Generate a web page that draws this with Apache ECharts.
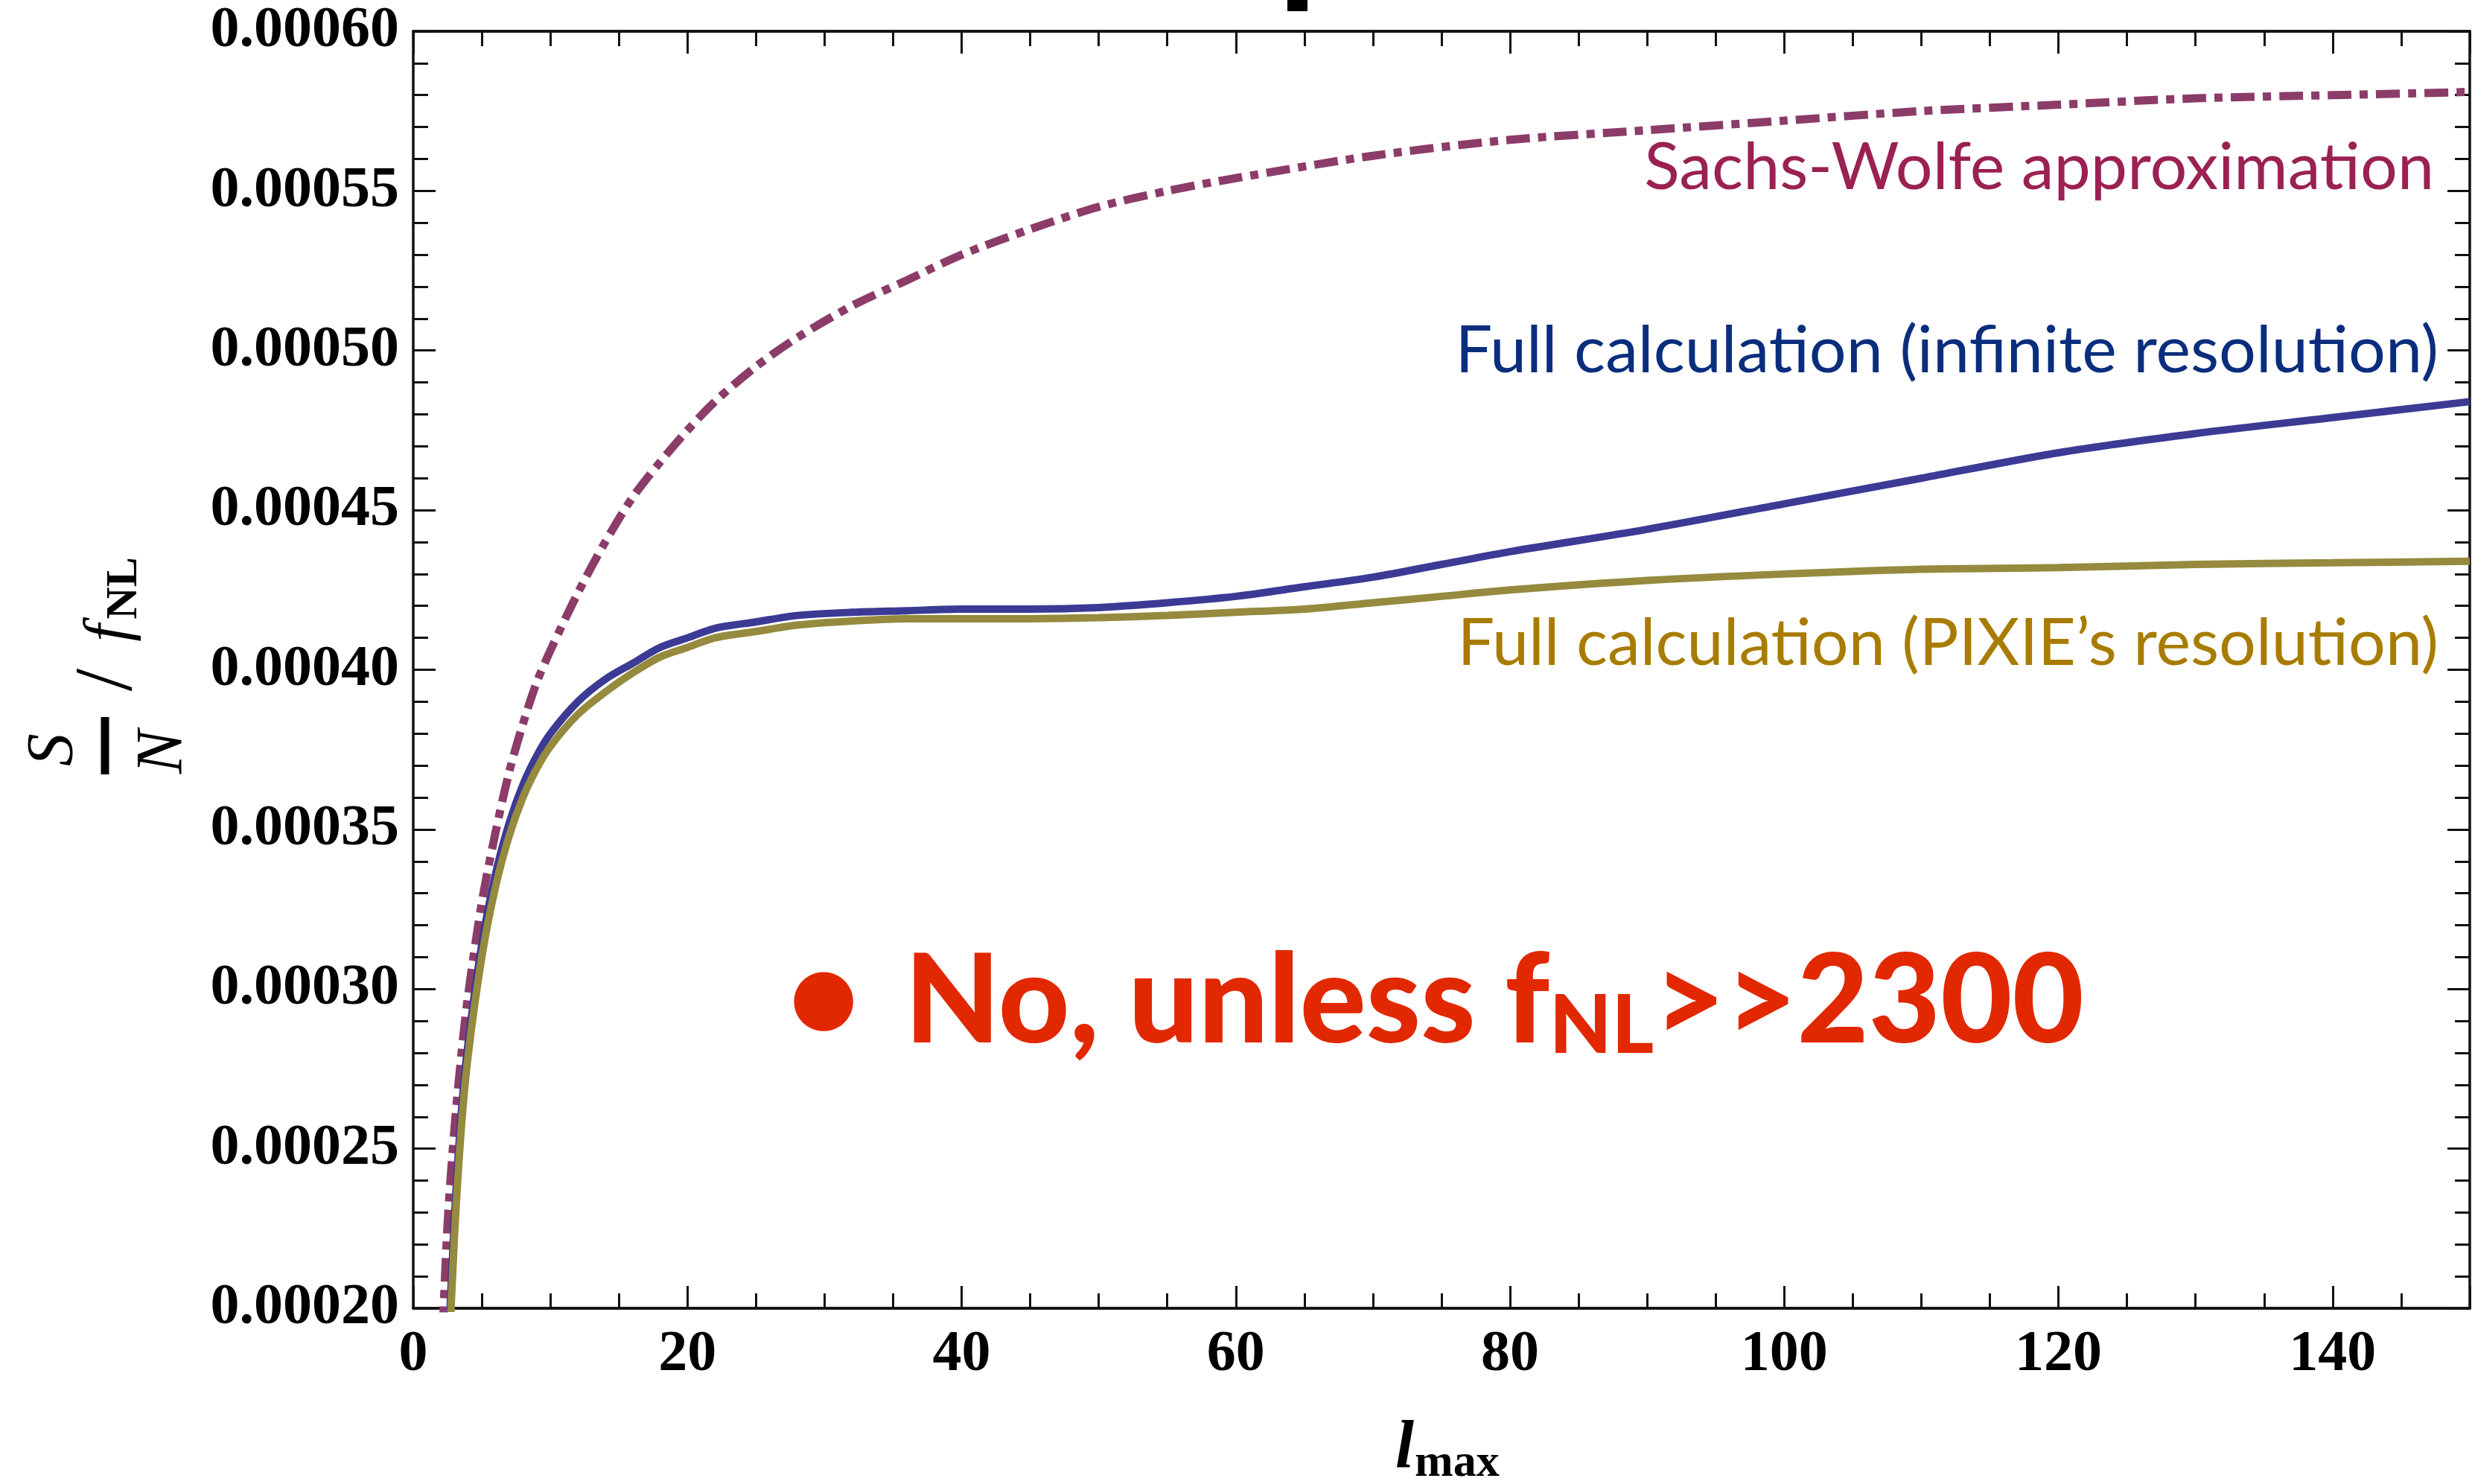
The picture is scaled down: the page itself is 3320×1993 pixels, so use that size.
<!DOCTYPE html>
<html>
<head>
<meta charset="utf-8">
<style>
  html, body { margin: 0; padding: 0; background: #fff; }
  #chart { width: 3320px; height: 1993px; }
</style>
<script src="https://cdn.jsdelivr.net/npm/echarts@6/dist/echarts.min.js"></script>
</head>
<body>
<div id="chart"></div>
<script>
// l_max grid for the Sachs-Wolfe curve and its S/N per unit f_NL
const lSW = [2, 2.5, 3, 3.5, 4, 5, 6, 7, 8, 9, 10, 12, 14, 16, 18, 20, 22, 25, 28, 32, 36, 40, 45, 50, 55, 60, 70, 80, 90, 100, 110, 120, 130, 140, 150];
const sachsWolfe = [0.000178, 0.000226, 0.000256, 0.000279, 0.000298, 0.000327, 0.000349, 0.000368, 0.000383, 0.000396,
  0.000406, 0.000424, 0.000440, 0.000454, 0.000465, 0.000475, 0.000484, 0.000495, 0.000504, 0.000514,
  0.000522, 0.000530, 0.000538, 0.000545, 0.000550, 0.000554, 0.000561, 0.000566, 0.000569, 0.000572,
  0.000575, 0.000577, 0.000579, 0.000580, 0.000581];

// l_max grid for the full calculations
const lFull = [2.5, 3, 3.5, 4, 5, 6, 7, 8, 9, 10, 12, 14, 16, 18, 20, 22, 25, 28, 32, 36, 40, 45, 50, 55, 60, 65, 70, 75, 80, 90, 100, 110, 120, 130, 140, 150];
const fullInfinite = [0.000182, 0.000228, 0.000261, 0.000283, 0.000314, 0.000336, 0.000352, 0.000364, 0.000373, 0.000380,
  0.000390, 0.000397, 0.000402, 0.000407, 0.000410, 0.000413, 0.000415, 0.000417, 0.000418, 0.0004185,
  0.000419, 0.000419, 0.0004195, 0.000421, 0.000423, 0.000426, 0.000429, 0.000433, 0.000437, 0.000444,
  0.000452, 0.000460, 0.000468, 0.000474, 0.000479, 0.000484];
const fullPixie = [0.000175, 0.000222, 0.000256, 0.000279, 0.000310, 0.000332, 0.000348, 0.000360, 0.000369, 0.000376,
  0.000386, 0.000393, 0.000399, 0.000404, 0.000407, 0.000410, 0.000412, 0.000414, 0.0004153, 0.000416,
  0.000416, 0.000416, 0.0004163, 0.000417, 0.000418, 0.000419, 0.000421, 0.000423, 0.000425, 0.000428,
  0.000430, 0.0004315, 0.000432, 0.000433, 0.0004335, 0.000434];

// Axis ranges and tick steps
const xRange = [0, 150];
const xMajor = 20;
const xMinor = 5;
const yRange = [0.0002, 0.0006];
const yMajor = 0.00005;

// Curve annotations
const labelSW = 'Sachs-Wolfe approximation';
const labelInfinite = 'Full calculation (infinite resolution)';
const labelPixie = 'Full calculation (PIXIE\u2019s resolution)';

const pairs = (xs, ys) => xs.map((x, i) => [x, ys[i]]);

const frame = { lineStyle: { color: '#111', width: 3.5 } };
const serifBold = { fontFamily: 'Liberation Serif', fontWeight: 'bold', fontSize: 78, color: '#000' };

function xAxisDef(position, step, tickLen, withLabels) {
  return {
    type: 'value', position: position, min: xRange[0], max: xRange[1], interval: step,
    axisLine: Object.assign({ show: true, onZero: false }, frame),
    axisTick: { show: true, inside: true, length: tickLen, lineStyle: { color: '#111', width: 3 } },
    axisLabel: withLabels ? Object.assign({
      show: true, margin: 24,
      formatter: v => (v > xRange[1] - 5 ? '' : String(v))
    }, serifBold) : { show: false },
    splitLine: { show: false }
  };
}

function yAxisDef(position, withLabels) {
  return {
    type: 'value', position: position, min: yRange[0], max: yRange[1], interval: yMajor,
    axisLine: Object.assign({ show: true, onZero: false }, frame),
    axisTick: { show: true, inside: true, length: 30, lineStyle: { color: '#111', width: 3 } },
    minorTick: { show: true, splitNumber: 5, length: 20, lineStyle: { color: '#111', width: 3 } },
    axisLabel: withLabels ? Object.assign({
      show: true, margin: 19,
      formatter: v => v.toFixed(5)
    }, serifBold) : { show: false },
    splitLine: { show: false },
    minorSplitLine: { show: false }
  };
}

const chart = echarts.init(document.getElementById('chart'), null, { renderer: 'canvas' });

// rotated S/N / f_NL title, laid out along the reading direction
const yTitle = {
  type: 'group', x: 141, y: 1040, rotation: Math.PI / 2,
  children: [
    { type: 'rect', shape: { x: 0, y: -5.5, width: 77, height: 11 }, style: { fill: '#000' } },
    { type: 'text', x: 33, y: -68, style: { text: 'S', font: 'italic 88px "Liberation Serif"', fill: '#000', align: 'center', verticalAlign: 'middle' } },
    { type: 'text', x: 30, y: 79, style: { text: 'N', font: 'italic 88px "Liberation Serif"', fill: '#000', align: 'center', verticalAlign: 'middle' } },
    { type: 'text', x: 127, y: 6, style: { text: '/', font: '110px "Liberation Serif"', fill: '#000', align: 'center', verticalAlign: 'middle' } },
    { type: 'text', x: 190, y: 8, style: { text: 'f', font: 'italic 84px "Liberation Serif"', fill: '#000', align: 'center', verticalAlign: 'middle' } },
    { type: 'text', x: 250, y: 26, style: { text: 'NL', font: 'bold 60px "Liberation Serif"', fill: '#000', align: 'center', verticalAlign: 'middle' } }
  ]
};

const option = {
  animation: false,
  backgroundColor: '#fff',
  grid: { left: 555, top: 42, right: -7, bottom: 236, containLabel: false },
  xAxis: [
    xAxisDef('bottom', xMajor, 30, true),
    xAxisDef('bottom', xMinor, 20, false),
    xAxisDef('top', xMajor, 30, false),
    xAxisDef('top', xMinor, 20, false)
  ],
  yAxis: [
    yAxisDef('left', true),
    yAxisDef('right', false)
  ],
  series: [
    {
      name: labelSW, type: 'line', xAxisIndex: 0, yAxisIndex: 0,
      data: pairs(lSW, sachsWolfe), showSymbol: false, smooth: 0.3, clip: true,
      lineStyle: { color: '#8C3C69', width: 11, type: [32, 11, 11, 11], cap: 'butt' }, z: 3
    },
    {
      name: labelInfinite, type: 'line', xAxisIndex: 0, yAxisIndex: 0,
      data: pairs(lFull, fullInfinite), showSymbol: false, smooth: 0.3, clip: true,
      lineStyle: { color: '#3B3A94', width: 10 }, z: 3
    },
    {
      name: labelPixie, type: 'line', xAxisIndex: 0, yAxisIndex: 0,
      data: pairs(lFull, fullPixie), showSymbol: false, smooth: 0.3, clip: true,
      lineStyle: { color: '#958A3E', width: 10 }, z: 4
    }
  ],
  graphic: [
    // descender of the heading letter above the plot
    { type: 'rect', shape: { x: 1729, y: 0, width: 27, height: 15 }, style: { fill: '#000' } },
    // curve names
    { type: 'text', x: 3269, y: 226, style: { text: labelSW, font: '88px Lato', fill: '#9A2152', align: 'right', verticalAlign: 'middle' } },
    { type: 'text', x: 3275, y: 472, style: { text: labelInfinite, font: '88px Lato', fill: '#0A2E7D', align: 'right', verticalAlign: 'middle' } },
    { type: 'text', x: 3275, y: 865, style: { text: labelPixie, font: '88px Lato', fill: '#A87C00', align: 'right', verticalAlign: 'middle' } },
    // conclusion
    { type: 'text', x: 1106, y: 1345, style: { text: '\u25CF', font: '104px "DejaVu Sans"', fill: '#E12800', align: 'center', verticalAlign: 'middle' } },
    {
      type: 'text', x: 1215, y: 1346,
      style: {
        text: 'No, unless f{sub|NL}>>2300',
        font: '900 166px Lato', fill: '#E12800', align: 'left', verticalAlign: 'middle',
        rich: { sub: { fontFamily: 'Lato', fontWeight: 900, fontSize: 108, fill: '#E12800', padding: [66, 0, 0, 0] } }
      }
    },
    // axis titles
    { type: 'text', x: 1874, y: 1947, style: { text: 'l', font: 'italic bold 90px "Liberation Serif"', fill: '#000', align: 'left', verticalAlign: 'middle' } },
    { type: 'text', x: 1900, y: 1966, style: { text: 'max', font: 'bold 62px "Liberation Serif"', fill: '#000', align: 'left', verticalAlign: 'middle' } },
    yTitle
  ]
};

chart.setOption(option);
</script>
</body>
</html>
